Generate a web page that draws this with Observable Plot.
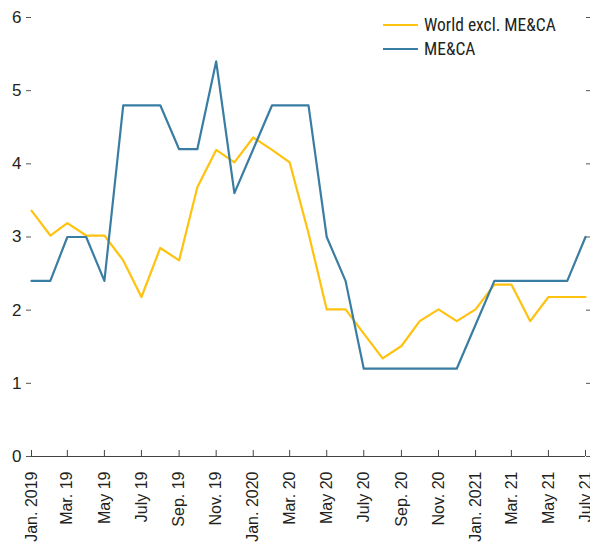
<!DOCTYPE html>
<html>
<head>
<meta charset="utf-8">
<script src="https://cdn.jsdelivr.net/npm/d3@7"></script>
<script src="https://cdn.jsdelivr.net/npm/@observablehq/plot@0.6"></script>
<style>
  html, body { margin: 0; padding: 0; background: #fff; }
  #wrap { position: relative; width: 590px; height: 542px; font-family: "Liberation Sans Narrow", "Arial Narrow", "Roboto Condensed", sans-serif; }
  #legend { position: absolute; left: 383px; top: 13px; font-size: 17.5px; color: #231f20; line-height: 24px; }
  #legend .row { display: flex; align-items: center; }
  #legend .sw { width: 35px; height: 2.5px; margin-right: 6px; }
</style>
</head>
<body>
<div id="wrap"><div id="legend"></div></div>
<script>
// Monthly observations, Jan. 2019 – July 2021
const startMonth = "2019-01";
const world = [3.36, 3.02, 3.19, 3.02, 3.02, 2.68, 2.18, 2.85, 2.68, 3.68,
               4.19, 4.02, 4.36, 4.19, 4.02, 3.05, 2.01, 2.01, 1.68, 1.34,
               1.51, 1.85, 2.01, 1.85, 2.01, 2.35, 2.35, 1.85, 2.18, 2.18, 2.18];
const meca  = [2.4, 2.4, 3.0, 3.0, 2.4, 4.8, 4.8, 4.8, 4.2, 4.2,
               5.4, 3.6, 4.2, 4.8, 4.8, 4.8, 3.0, 2.4, 1.2, 1.2,
               1.2, 1.2, 1.2, 1.2, 1.8, 2.4, 2.4, 2.4, 2.4, 2.4, 3.0];
const seriesNames = ["World excl. ME&CA", "ME&CA"];
const seriesColors = ["#FFC20E", "#3A7DA3"];
const tickLabels = ["Jan. 2019", "Mar. 19", "May 19", "July 19", "Sep. 19", "Nov. 19",
                    "Jan. 2020", "Mar. 20", "May 20", "July 20", "Sep. 20", "Nov. 20",
                    "Jan. 2021", "Mar. 21", "May 21", "July 21"];
const yTicks = [0, 1, 2, 3, 4, 5, 6];

const start = new Date(startMonth + "-01T00:00:00Z");
const months = world.map((_, i) => d3.utcMonth.offset(start, i));
const data = [
  ...world.map((v, i) => ({date: months[i], value: v, series: seriesNames[0]})),
  ...meca.map((v, i) => ({date: months[i], value: v, series: seriesNames[1]}))
];
const tickDates = tickLabels.map((_, i) => d3.utcMonth.offset(start, 2 * i));
const labelOf = new Map(tickDates.map((d, i) => [+d, tickLabels[i]]));

const chart = Plot.plot({
  width: 590,
  height: 542,
  marginLeft: 31,
  marginRight: 5,
  marginTop: 17,
  marginBottom: 86,
  style: {fontFamily: "\"Liberation Sans Narrow\", \"Arial Narrow\", sans-serif", color: "#231f20", background: "#fff"},
  x: {type: "utc", domain: [months[0], months[months.length - 1]]},
  y: {domain: [0, 6]},
  color: {domain: seriesNames, range: seriesColors},
  marks: [
    Plot.axisY({ticks: yTicks, anchor: "left", tickSize: 5, tickPadding: 5, fontSize: 17, stroke: "#555", label: null, tickFormat: d => String(d)}),
    Plot.axisY({ticks: yTicks, anchor: "right", tickSize: 5, stroke: "#555", label: null, tickFormat: () => ""}),
    Plot.ruleY([0], {stroke: "#444", strokeWidth: 1.2}),
    Plot.axisX({ticks: tickDates, anchor: "bottom", tickSize: -6, stroke: "#444", label: null, tickFormat: () => ""}),
    Plot.axisX({ticks: tickDates, anchor: "bottom", tickSize: 0, tickPadding: 15, tickRotate: -90, fontSize: 16, label: null,
                tickFormat: d => labelOf.get(+d)}),
    Plot.line(data, {x: "date", y: "value", z: "series", stroke: "series", strokeWidth: 2.2, curve: "linear"})
  ]
});
document.getElementById("wrap").prepend(chart);

const legend = document.getElementById("legend");
seriesNames.forEach((name, i) => {
  const row = document.createElement("div");
  row.className = "row";
  const sw = document.createElement("div");
  sw.className = "sw";
  sw.style.background = seriesColors[i];
  const t = document.createElement("span");
  t.textContent = name;
  row.append(sw, t);
  legend.append(row);
});
</script>
</body>
</html>
